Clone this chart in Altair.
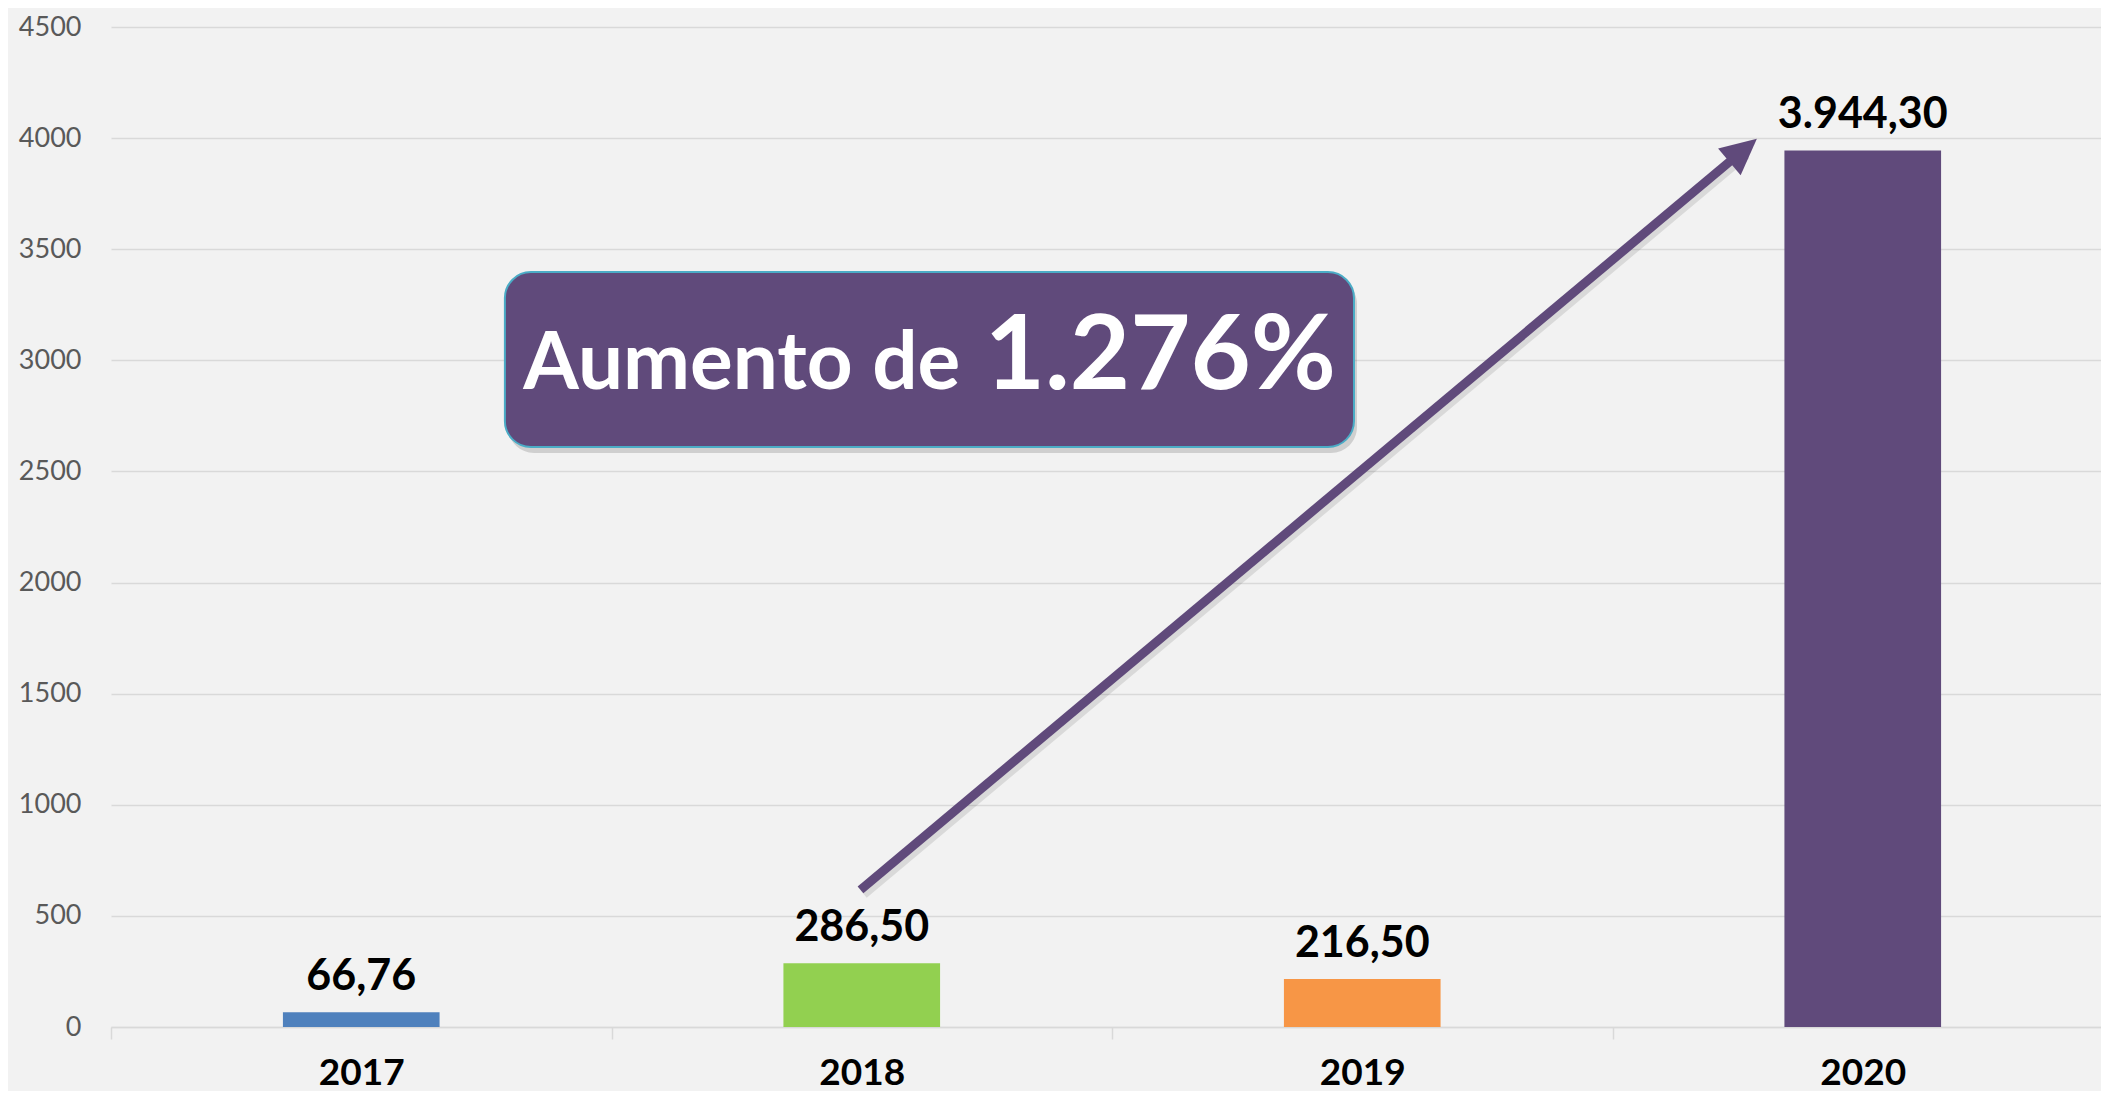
import altair as alt
import pandas as pd

# ---- data ----
years = ["2017", "2018", "2019", "2020"]
values = [66.76, 286.50, 216.50, 3944.30]
value_labels = ["66,76", "286,50", "216,50", "3.944,30"]
bar_colors = ["#4F81BD", "#92D050", "#F79646", "#604A7B"]
y_ticks = [0, 500, 1000, 1500, 2000, 2500, 3000, 3500, 4000, 4500]

# annotation text
note_parts = ["Aumento de", "1.276%"]

# annotation anchors in data space (x: category index 0..4, y: value units)
box_x = [0.787, 2.4835]
box_y = [2610, 3397]
note_x = [1.2603, 2.0967]
note_y = [2870, 2870]
note_sizes = [80, 104]
arrow_start = [1.4975, 617]
arrow_head = [3.261, 3945]
arrow_angle = 49.8

PURPLE = "#604A7B"
GRID = "#D9D9D9"
FONT = "Lato"

bars = pd.DataFrame({"year": years, "value": values, "label": value_labels, "color": bar_colors})

band_scale = alt.Scale(type="band", paddingInner=0, paddingOuter=0, range=[0, 2002])
x_axis = alt.Axis(
    title=None, labelAngle=0, labelFont=FONT, labelFontWeight="bold", labelFontSize=37,
    labelColor="black", tickBand="extent", tickColor=GRID, tickSize=12, tickWidth=1.5,
    domainColor=GRID, domainWidth=1.5, labelPadding=16, grid=False,
)
y_axis = alt.Axis(
    title=None, values=y_ticks, format="d", labelFont=FONT, labelFontSize=27,
    labelColor="#595959", labelPadding=30, ticks=False, domain=False, grid=True,
    gridColor=GRID, gridWidth=1.5,
)
y_scale = alt.Scale(domain=[0, 4500], nice=False)

bar_layer = alt.Chart(bars).mark_bar(width=alt.RelativeBandSize(0.313)).encode(
    x=alt.X("year:N", sort=years, scale=band_scale, axis=x_axis),
    y=alt.Y("value:Q", scale=y_scale, axis=y_axis),
    color=alt.Color("color:N", scale=None),
)
label_layer = alt.Chart(bars).mark_text(
    font=FONT, fontWeight="bold", fontSize=43, baseline="alphabetic", dy=-22, color="black"
).encode(
    x=alt.X("year:N", sort=years, scale=band_scale, axis=None),
    y=alt.Y("value:Q", scale=y_scale, axis=y_axis),
    text="label:N",
)

t_scale = alt.Scale(domain=[0, 4], range=[0, 2002], nice=False, zero=False)

box = pd.DataFrame({"t0": [box_x[0]], "t1": [box_x[1]], "v0": [box_y[0]], "v1": [box_y[1]]})
box_shadow = alt.Chart(box).mark_rect(
    cornerRadius=26, color="black", opacity=0.14, xOffset=3, x2Offset=3, yOffset=6, y2Offset=6
).encode(
    x=alt.X("t0:Q", scale=t_scale, axis=None), x2="t1:Q",
    y=alt.Y("v0:Q", scale=y_scale, axis=y_axis), y2="v1:Q",
)
box_layer = alt.Chart(box).mark_rect(
    cornerRadius=26, fill=PURPLE, stroke="#4BACC6", strokeWidth=2
).encode(
    x=alt.X("t0:Q", scale=t_scale, axis=None), x2="t1:Q",
    y=alt.Y("v0:Q", scale=y_scale, axis=y_axis), y2="v1:Q",
)

notes = pd.DataFrame({"t": note_x, "v": note_y, "text": note_parts, "size": note_sizes})
note_layer = alt.Chart(notes).mark_text(
    font=FONT, fontWeight="bold", color="white", baseline="alphabetic", align="center"
).encode(
    x=alt.X("t:Q", scale=t_scale, axis=None),
    y=alt.Y("v:Q", scale=y_scale, axis=y_axis),
    text="text:N",
    size=alt.Size("size:Q", scale=None, legend=None),
)

shaft = pd.DataFrame({"t": [arrow_start[0]], "v": [arrow_start[1]], "t2": [arrow_head[0]], "v2": [arrow_head[1]]})
shaft_shadow = alt.Chart(shaft).mark_rule(
    color="black", opacity=0.1, strokeWidth=10, strokeCap="butt", xOffset=3, x2Offset=3, yOffset=4, y2Offset=4
).encode(
    x=alt.X("t:Q", scale=t_scale, axis=None), x2="t2:Q",
    y=alt.Y("v:Q", scale=y_scale, axis=y_axis), y2="v2:Q",
)
shaft_layer = alt.Chart(shaft).mark_rule(color=PURPLE, strokeWidth=9, strokeCap="butt").encode(
    x=alt.X("t:Q", scale=t_scale, axis=None), x2="t2:Q",
    y=alt.Y("v:Q", scale=y_scale, axis=y_axis), y2="v2:Q",
)

head = pd.DataFrame({"t": [arrow_head[0]], "v": [arrow_head[1]]})
head_layer = alt.Chart(head).mark_point(
    shape="M0,-1L0.97,1L-0.97,1Z", filled=True, fill=PURPLE, color=PURPLE, opacity=1,
    size=1296, angle=arrow_angle, strokeWidth=0,
).encode(
    x=alt.X("t:Q", scale=t_scale, axis=None),
    y=alt.Y("v:Q", scale=y_scale, axis=y_axis),
)

chart = (
    alt.layer(
        bar_layer, label_layer, shaft_shadow, shaft_layer, head_layer,
        box_shadow, box_layer, note_layer,
    )
    .resolve_scale(x="independent")
    .properties(
        width=1990, height=1000,
        autosize=alt.AutoSizeParams(type="none"),
        padding={"left": 103, "top": 19, "right": 0, "bottom": 64},
        background="#F2F2F2",
    )
    .configure_view(stroke=None)
)

chart.save("out.html", embed_options={"renderer": "svg", "actions": False})
